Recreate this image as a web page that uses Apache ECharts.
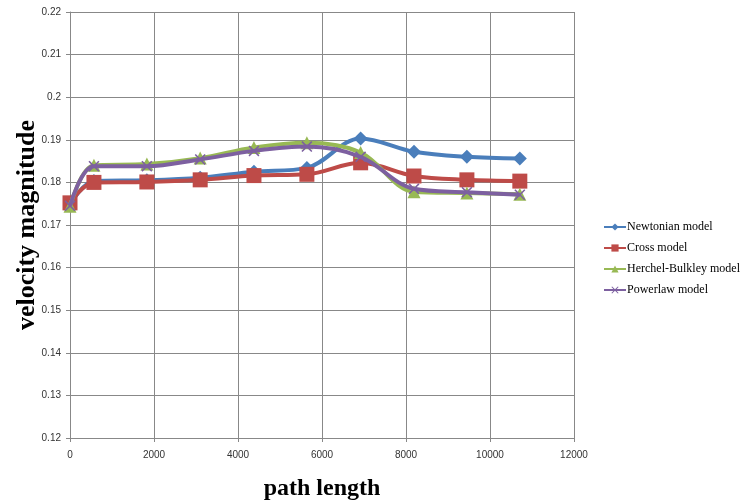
<!DOCTYPE html>
<html><head><meta charset="utf-8">
<script src="https://cdn.jsdelivr.net/npm/echarts@6/dist/echarts.min.js"></script>
<style>html,body{margin:0;padding:0;background:#fff}#c{width:745px;height:502px}</style>
</head><body><div id="c"></div>
<script>
const pathLength = [0, 570, 1830, 3100, 4380, 5640, 6920, 8190, 9450, 10710];
const newtonian = [0.1748, 0.1803, 0.1805, 0.1811, 0.1825, 0.1834, 0.1903, 0.1872, 0.1860, 0.1856];
const cross = [0.1752, 0.1800, 0.1801, 0.1806, 0.1816, 0.1819, 0.1846, 0.1815, 0.1806, 0.1803];
const herchel = [0.1744, 0.1840, 0.1843, 0.1857, 0.1882, 0.1893, 0.1870, 0.1778, 0.1775, 0.1772];
const powerlaw = [0.1745, 0.1838, 0.1838, 0.1854, 0.1874, 0.1884, 0.1860, 0.1785, 0.1777, 0.1771];
const seriesNames = ['Newtonian model', 'Cross model', 'Herchel-Bulkley model', 'Powerlaw model'];
const xTitle = 'path length';
const yTitle = 'velocity magnitude';

const pair = ys => pathLength.map((x, i) => [x, ys[i]]);
const xMark = 'path://M0,1L1,0L5,4L9,0L10,1L6,5L10,9L9,10L5,6L1,10L0,9L4,5Z';
const colors = ['#4A7EBB', '#BE4B48', '#98B954', '#7D60A0'];
const symbols = ['diamond', 'rect', 'triangle', xMark];
const sizes = [14, 15, 13, 11];
const datas = [newtonian, cross, herchel, powerlaw];

const chart = echarts.init(document.getElementById('c'), null, {renderer: 'canvas'});
chart.setOption({
  animation: false,
  color: colors,
  grid: {left: 70, top: 12, right: 171, bottom: 64, containLabel: false, outerBoundsMode: 'none'},
  legend: {
    orient: 'vertical', left: 598, top: 216, itemGap: 9, itemWidth: 22, itemHeight: 9,
    textStyle: {fontFamily: 'Liberation Serif', fontSize: 12, color: '#000', padding: [0,0,0,-4]},
    data: seriesNames
  },
  xAxis: {
    type: 'value', min: 0, max: 12000, interval: 2000,
    name: xTitle, nameLocation: 'middle', nameGap: 39, nameMoveOverlap: false,
    nameTextStyle: {fontFamily: 'Liberation Serif', fontWeight: 'bold', fontSize: 24, color: '#000'},
    axisLine: {lineStyle: {color: '#888', width: 1}},
    axisTick: {show: true, length: 4, lineStyle: {color: '#888'}},
    axisLabel: {fontFamily: 'Liberation Sans', fontSize: 10, color: '#333', margin: 12, formatter: v => String(v)},
    splitLine: {show: true, lineStyle: {color: '#888', width: 1}}
  },
  yAxis: {
    type: 'value', min: 0.12, max: 0.22, interval: 0.01,
    name: yTitle, nameLocation: 'middle', nameGap: 30, nameRotate: 90, nameMoveOverlap: false,
    nameTextStyle: {fontFamily: 'Liberation Serif', fontWeight: 'bold', fontSize: 26, color: '#000'},
    axisLine: {show: true, lineStyle: {color: '#888', width: 1}},
    axisTick: {show: true, length: 4, lineStyle: {color: '#888'}},
    axisLabel: {fontFamily: 'Liberation Sans', fontSize: 10, color: '#333', margin: 9},
    splitLine: {show: true, lineStyle: {color: '#888', width: 1}}
  },
  series: datas.map((d, i) => ({
    name: seriesNames[i], type: 'line', smooth: 0.35,
    data: pair(d), symbol: symbols[i], symbolSize: sizes[i],
    lineStyle: {width: 4, color: colors[i]},
    itemStyle: {color: colors[i], borderColor: colors[i], borderWidth: 0},
    z: 2 + i
  }))
});
</script></body></html>
